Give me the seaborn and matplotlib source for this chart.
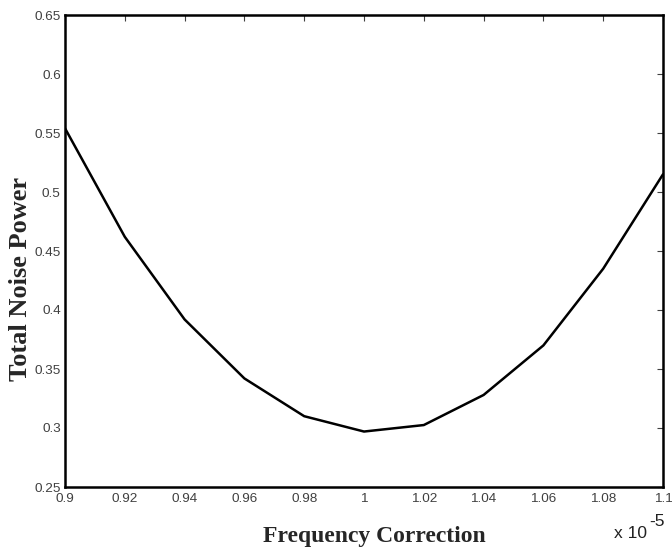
import matplotlib
matplotlib.use("Agg")
import matplotlib.pyplot as plt
import matplotlib.ticker as mticker
import seaborn as sns
import pandas as pd

freq_correction = [0.90, 0.92, 0.94, 0.96, 0.98, 1.00, 1.02, 1.04, 1.06, 1.08, 1.10]
total_noise_power = [0.554, 0.462, 0.392, 0.342, 0.310, 0.297, 0.3025, 0.328, 0.370, 0.435, 0.515]
x_ticks = [0.90, 0.92, 0.94, 0.96, 0.98, 1.00, 1.02, 1.04, 1.06, 1.08, 1.10]
y_ticks = [0.25, 0.30, 0.35, 0.40, 0.45, 0.50, 0.55, 0.60, 0.65]

df = pd.DataFrame({"x": freq_correction, "y": total_noise_power})

sns.set_style("white")
plt.rcParams["font.family"] = ["Liberation Sans", "DejaVu Sans"]

fig = plt.figure(figsize=(6.72, 5.48), dpi=100)
ax = fig.add_axes([65/672, 61/548, (663-65)/672, (487-15)/548])

sns.lineplot(data=df, x="x", y="y", ax=ax, color="black", linewidth=1.8)

ax.set_xlim(0.9, 1.1)
ax.set_ylim(0.25, 0.65)
ax.set_xticks(x_ticks)
ax.set_yticks(y_ticks)
ax.xaxis.set_major_formatter(mticker.FormatStrFormatter("%g"))
ax.yaxis.set_major_formatter(mticker.FormatStrFormatter("%g"))
ax.tick_params(direction="in", length=4, width=0.8, colors="#404040",
               labelsize=9.7, top=True, right=True)
ax.tick_params(axis="x", pad=4)
ax.tick_params(axis="y", pad=3)
for s in ax.spines.values():
    s.set_linewidth(1.8)
    s.set_color("black")

ax.set_xlabel("Frequency Correction", fontfamily="Liberation Serif",
              fontweight="bold", fontsize=17, va="baseline")
ax.xaxis.set_label_coords(0.518, -0.1165)
ax.set_ylabel("Total Noise Power", fontfamily="Liberation Serif",
              fontweight="bold", fontsize=19, va="center")
ax.yaxis.set_label_coords(-0.075, 0.44)

fig.text(614/672, 1 - 538/548, "x 10", fontsize=12.5, color="#222222",
         ha="left", va="baseline")
fig.text(649/672, 1 - 521/548, "-5", fontsize=12.5, color="#222222",
         ha="left", va="center")

fig.savefig("out.png", dpi=100)
